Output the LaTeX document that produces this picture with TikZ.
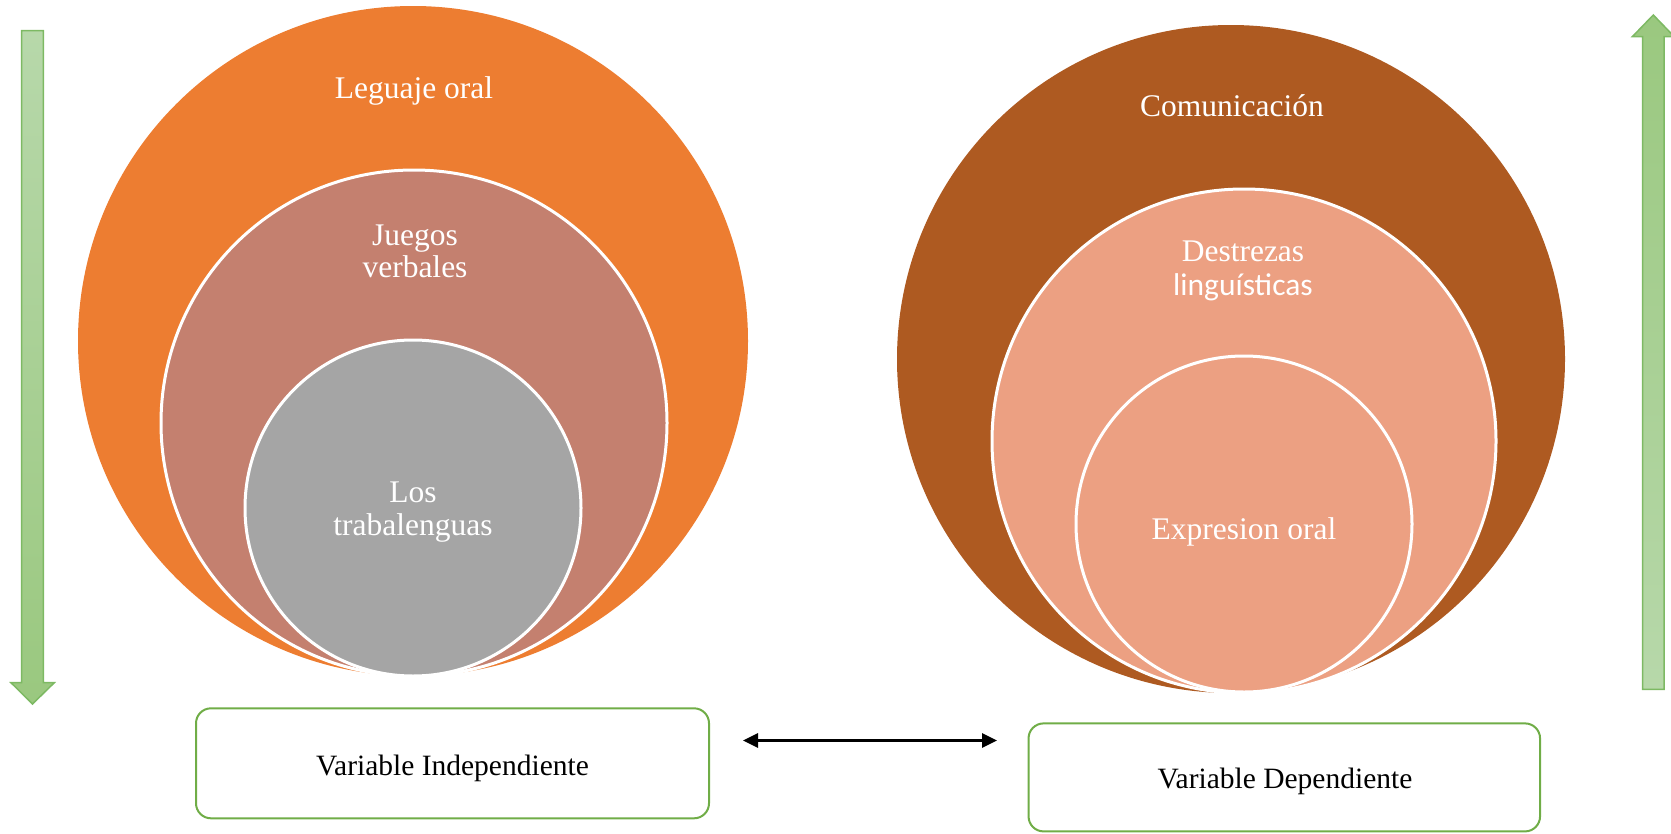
\documentclass[tikz,border=0pt]{standalone}
\usepackage{fontspec}
\setmainfont{Liberation Serif}
\newfontfamily\calibrifont{Carlito}
\usetikzlibrary{arrows.meta}
\definecolor{cOrange}{HTML}{ED7D31}
\definecolor{cRosy}{HTML}{C4806F}
\definecolor{cGrey}{HTML}{A5A5A5}
\definecolor{cBrown}{HTML}{AE5A21}
\definecolor{cSalmon}{HTML}{ECA082}
\definecolor{cGreen}{HTML}{70AD47}
\definecolor{cArrowEdge}{HTML}{7DB963}
\definecolor{cArrowLight}{HTML}{B7D8AA}
\definecolor{cArrowDark}{HTML}{9AC87F}
\tikzset{
  ring/.style={circle, draw=white, line width=3pt, inner sep=0pt},
  lbl/.style={anchor=base, text=white, inner sep=0pt, font=\fontsize{31.5}{33}\selectfont},
  varbox/.style={draw=cGreen, line width=2pt, rounded corners=15pt, fill=white, inner sep=0pt},
  boxlbl/.style={anchor=base, text=black, inner sep=0pt, font=\fontsize{29.5}{33}\selectfont},
  blockarrow/.style={draw=cArrowEdge, line width=1.5pt, line join=miter},
  link/.style={line width=3pt, {Triangle[length=15pt,width=14pt]}-{Triangle[length=15pt,width=14pt]}}
}
\begin{document}
\begin{tikzpicture}[x=1pt,y=-1pt]
\useasboundingbox (0,0) rectangle (1671,833);
% left nested circles
\node[ring, fill=cOrange, draw=none, minimum size=670pt] (outerL) at (413,341) {};
\node[ring, fill=cRosy, minimum size=506pt] (midL) at (414,423) {};
\node[ring, fill=cGrey, minimum size=336pt] (innerL) at (413,508) {};
\node[lbl] (tLeng) at (414,98.5) {Leguaje oral};
\node[lbl] (tJue1) at (415,245) {Juegos};
\node[lbl] (tJue2) at (415,277) {verbales};
\node[lbl] (tLos1) at (413,502) {Los};
\node[lbl] (tLos2) at (413,535) {trabalenguas};
% right nested circles
\node[ring, fill=cBrown, draw=none, minimum size=668pt] (outerR) at (1231,359) {};
\node[ring, fill=cSalmon, minimum size=504pt] (midR) at (1244,441) {};
\node[ring, fill=cSalmon, minimum size=336pt] (innerR) at (1244,524) {};
\node[lbl] (tCom) at (1232,116) {Comunicación};
\node[lbl] (tDes1) at (1243,261) {Destrezas};
\node[lbl, font=\calibrifont\fontsize{31.5}{33}\selectfont] (tDes2) at (1243,295) {linguísticas};
\node[lbl] (tExp) at (1244,539) {Expresion oral};
% boxes
\node[varbox, minimum width=513pt, minimum height=110pt] (boxL) at (452.5,763.3) {};
\node[boxlbl] (tVI) at (452.5,775) {Variable Independiente};
\node[varbox, minimum width=511.5pt, minimum height=108pt] (boxR) at (1284.3,777.4) {};
\node[boxlbl] (tVD) at (1285,788.3) {Variable Dependiente};
% double arrow
\coordinate (aL) at (743,740.5);
\coordinate (aR) at (997,740.5);
\draw[link] (aL) -- (aR);
% green block arrows
\shade[blockarrow, top color=cArrowLight, bottom color=cArrowDark]
  (21.7,30.7) -- (43.3,30.7) -- (43.3,682.7) -- (54.3,682.7) -- (32.5,704)
  -- (11,682.7) -- (21.7,682.7) -- cycle;
\shade[blockarrow, top color=cArrowDark, bottom color=cArrowLight]
  (1642.7,689.3) -- (1664,689.3) -- (1664,36.7) -- (1674.3,36.7) -- (1653.3,15)
  -- (1632.3,36.7) -- (1642.7,36.7) -- cycle;
\end{tikzpicture}
\end{document}
